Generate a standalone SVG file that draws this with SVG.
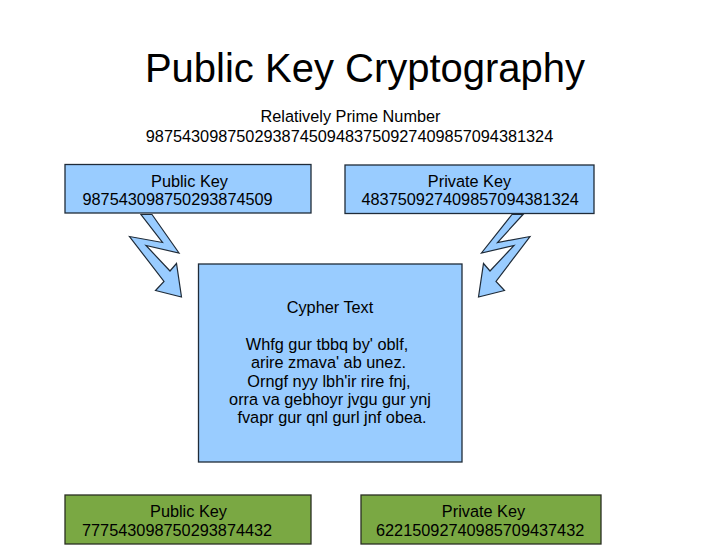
<svg xmlns="http://www.w3.org/2000/svg" width="728" height="546" viewBox="0 0 728 546">
<style>
text{font-family:"Liberation Sans",Arial,sans-serif;fill:#000}
.t{font-size:16.3px}
.c{text-anchor:middle}
.blue{fill:#99ccff;stroke:#1f2b38;stroke-width:1.3}
.green{fill:#7aa843;stroke:#2a2f22;stroke-width:1.3}
.bolt{fill:#99ccff;stroke:#1f2b38;stroke-width:1.2;stroke-linejoin:miter}
</style>
<rect width="728" height="546" fill="#ffffff"/>
<g id="title">
<text x="365" y="81.7" class="c" style="font-size:40px">Public Key Cryptography</text>
</g>
<g id="relprime">
<text x="350.5" y="122" class="t c">Relatively Prime Number</text>
<text x="349.5" y="142" class="t c">987543098750293874509483750927409857094381324</text>
</g>
<g id="connectors">
<polygon class="bolt" points="141,214.5 152,214.5 179,253 146,245.5 170,271 176.5,263.5 181.5,297 155.5,290.5 164,281.5 129.5,236.5 162.5,242.5"/>
<polygon class="bolt" points="523,214.5 512,214.5 481.5,253 514,245.5 490,271 483.5,263.5 478.5,297 504.5,290.5 496,281.5 530,236.5 497.5,242.5"/>
</g>
<g id="pubkey1">
<rect class="blue" x="65" y="164.5" width="246" height="48.5"/>
<text x="189.5" y="186.7" class="t c">Public Key</text>
<text x="82.5" y="205" class="t">987543098750293874509</text>
</g>
<g id="privkey1">
<rect class="blue" x="345" y="165" width="249" height="48.5"/>
<text x="469.5" y="186.5" class="t c">Private Key</text>
<text x="361.5" y="204.5" class="t">483750927409857094381324</text>
</g>
<g id="cypher">
<rect class="blue" x="198.5" y="264" width="263.5" height="198"/>
<text x="330" y="312.7" class="t c">Cypher Text</text>
<text x="327" y="350" class="t c">Whfg gur tbbq by' oblf,</text>
<text x="328.5" y="368.3" class="t c">arire zmava' ab unez.</text>
<text x="329" y="386.8" class="t c">Orngf nyy lbh'ir rire fnj,</text>
<text x="330" y="405" class="t c">orra va gebhoyr jvgu gur ynj</text>
<text x="332" y="423.3" class="t c">fvapr gur qnl gurl jnf obea.</text>
</g>
<g id="pubkey2">
<rect class="green" x="65" y="495" width="246" height="49"/>
<text x="188.5" y="517" class="t c">Public Key</text>
<text x="82" y="535.5" class="t">777543098750293874432</text>
</g>
<g id="privkey2">
<rect class="green" x="361" y="495" width="240" height="49"/>
<text x="483.5" y="517" class="t c">Private Key</text>
<text x="376" y="535.5" class="t">62215092740985709437432</text>
</g>
</svg>
